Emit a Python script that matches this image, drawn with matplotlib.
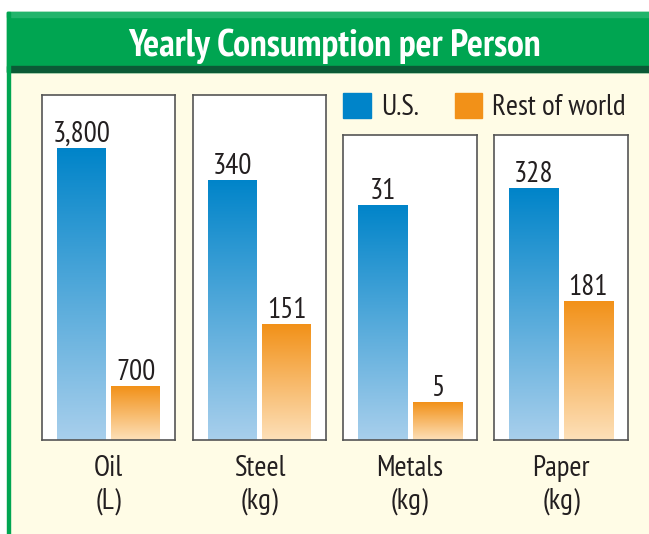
import numpy as np
import matplotlib
matplotlib.use("Agg")
import matplotlib.pyplot as plt
from matplotlib.patches import Rectangle
from matplotlib.colors import LinearSegmentedColormap

# data
categories = ["Oil", "Steel", "Metals", "Paper"]
units = ["(L)", "(kg)", "(kg)", "(kg)"]
us_values = [3800, 340, 31, 328]
world_values = [700, 151, 5, 181]
value_labels_us = ["3,800", "340", "31", "328"]
value_labels_world = ["700", "151", "5", "181"]
series = ["U.S.", "Rest of world"]
y_tops = [4490, 451, 40.2, 397]

W, H = 649, 534
FONT = ["PT Sans Narrow", "Liberation Sans", "DejaVu Sans"]
TXT = "#231f20"
CREAM = "#fffce6"

blue_cmap = LinearSegmentedColormap.from_list("b", ["#a8cfec", "#0084c9"])
orange_cmap = LinearSegmentedColormap.from_list("o", ["#fde0b9", "#f29118"])


def px(x, y, w, h):
    # pixel box (top-left origin) -> figure fraction
    return [x / W, (H - y - h) / H, w / W, h / H]


fig = plt.figure(figsize=(W / 100, H / 100), dpi=100)
fig.patch.set_facecolor("white")

# background frame
bg = fig.add_axes([0, 0, 1, 1])
bg.set_xlim(0, W)
bg.set_ylim(H, 0)
bg.axis("off")
bg.add_patch(Rectangle((7, 12), W, H, color=CREAM))
bg.add_patch(Rectangle((7, 12), W, 60, color="#00a551"))
bg.add_patch(Rectangle((7, 12), W, 5, color="#22b46b"))
bg.add_patch(Rectangle((7, 66), W, 6, color="#0b5a36"))
bg.add_patch(Rectangle((7, 12), 3, H, color="#00a551"))
bg.text(334, 56, "Yearly Consumption per Person", color="white",
        fontsize=27, fontweight="bold", family=FONT, ha="center", va="baseline")

# legend
bg.add_patch(Rectangle((343, 93), 28, 25, color="#0084c9"))
bg.add_patch(Rectangle((455, 93), 27, 25, color="#f29118"))
bg.text(381, 115, series[0], fontsize=21, family=FONT, color=TXT, va="baseline")
bg.text(492, 115, series[1], fontsize=21, family=FONT, color=TXT, va="baseline")

panels = [(42, 95, 133, 345), (193, 95, 133, 345),
          (343, 135, 134, 305), (494, 135, 134, 305)]
grad = np.linspace(0, 1, 256).reshape(-1, 1)

for i, (x, y, w, h) in enumerate(panels):
    ax = fig.add_axes(px(x, y, w, h))
    ax.set_facecolor("white")
    ax.set_xlim(-0.73, 1.73)
    ax.set_ylim(0, y_tops[i])
    ax.set_xticks([])
    ax.set_yticks([])
    for s in ax.spines.values():
        s.set_color("#555555")
        s.set_linewidth(1.2)

    bars = ax.bar([0, 1], [us_values[i], world_values[i]], width=0.9,
                  color="none", edgecolor="none")
    for bar, cmap, lab in zip(bars, [blue_cmap, orange_cmap],
                              [value_labels_us[i], value_labels_world[i]]):
        bx, bw, bh = bar.get_x(), bar.get_width(), bar.get_height()
        im = ax.imshow(grad, cmap=cmap, aspect="auto", origin="lower",
                       extent=[bx, bx + bw, 0, bh], zorder=2)
        im.set_clip_path(bar)
        ax.annotate(lab, (bx + bw / 2, bh), xytext=(0, 4.5),
                    textcoords="offset points", ha="center", va="baseline",
                    fontsize=21, family=FONT, color=TXT)

    cx = x + w / 2
    bg.text(cx, 476, categories[i], fontsize=21, family=FONT, color=TXT,
            ha="center", va="baseline")
    bg.text(cx, 509, units[i], fontsize=21, family=FONT, color=TXT,
            ha="center", va="baseline")

fig.savefig("out.png", dpi=100)
